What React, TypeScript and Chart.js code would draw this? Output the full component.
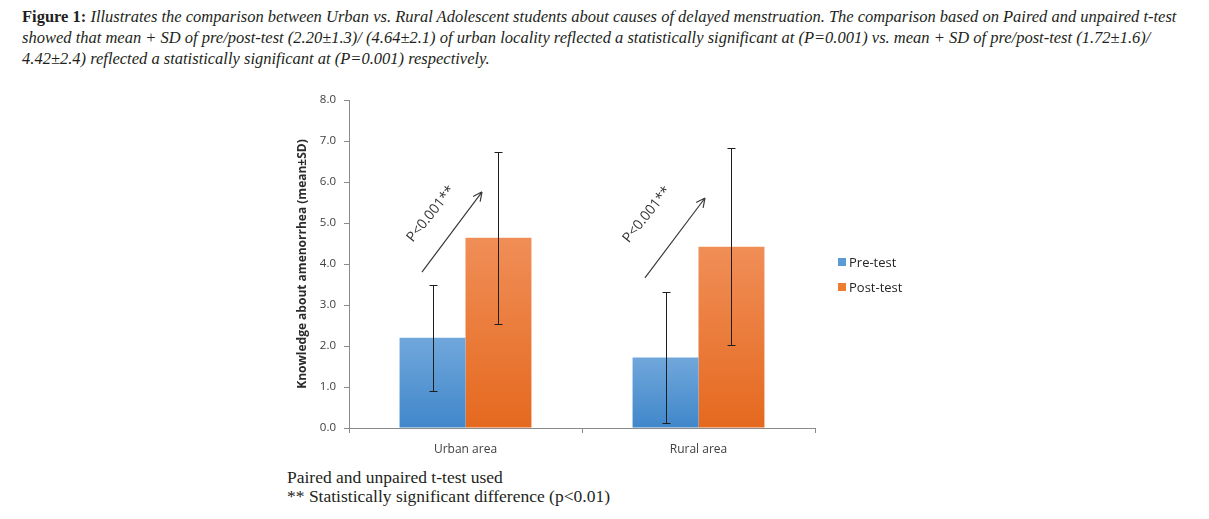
import React, { useEffect, useRef } from "react";
import { Chart, registerables } from "chart.js";

Chart.register(...registerables);

const categories = ["Urban area", "Rural area"];
const seriesNames = ["Pre-test", "Post-test"];
const preMean = [2.2, 1.72];
const preSD = [1.3, 1.6];
const postMean = [4.64, 4.42];
const postSD = [2.1, 2.4];
const yMin = 0;
const yMax = 8;
const yStep = 1;
const yTitle = "Knowledge about amenorrhea (mean\u00b1SD)";
const annotationText = "P<0.001**";
// annotation arrows, in (category index, value) units
const arrowFromX = [-0.187, 0.77];
const arrowFromY = [3.8, 3.66];
const arrowToX = [0.071, 1.028];
const arrowToY = [5.76, 5.61];
const labelAtX = [-0.148, 0.779];
const labelAtY = [5.22, 5.2];

const blueTop = "#70a7db";
const blueBottom = "#4087ca";
const orangeTop = "#f08e57";
const orangeBottom = "#e5691f";
const FONT = '"Open Sans", "Noto Sans", sans-serif';

const errors = [preSD, postSD];

function gradientFor(top: string, bottom: string) {
  return (c: any) => {
    const chart = c.chart;
    const ys = chart.scales && chart.scales.y;
    if (!chart.chartArea || !ys || c.raw == null) return bottom;
    const y0 = ys.getPixelForValue(0);
    const y1 = ys.getPixelForValue(c.raw);
    if (!isFinite(y0) || !isFinite(y1) || y0 === y1) return bottom;
    const g = chart.ctx.createLinearGradient(0, y0, 0, y1);
    g.addColorStop(0, bottom);
    g.addColorStop(1, top);
    return g;
  };
}

const errorBarPlugin = {
  id: "errorBars",
  afterDatasetsDraw(chart: any) {
    const ctx = chart.ctx;
    const ys = chart.scales.y;
    ctx.save();
    ctx.strokeStyle = "#1e1e1e";
    ctx.lineWidth = 1;
    chart.data.datasets.forEach((ds: any, di: number) => {
      const meta = chart.getDatasetMeta(di);
      meta.data.forEach((bar: any, i: number) => {
        const m = ds.data[i];
        const s = errors[di][i];
        const top = Math.round(ys.getPixelForValue(m + s)) + 0.5;
        const bot = Math.round(ys.getPixelForValue(m - s)) + 0.5;
        const x = Math.round(bar.x) + 0.5;
        ctx.beginPath();
        ctx.moveTo(x, top);
        ctx.lineTo(x, bot);
        ctx.moveTo(x - 4, top);
        ctx.lineTo(x + 4, top);
        ctx.moveTo(x - 4, bot);
        ctx.lineTo(x + 4, bot);
        ctx.stroke();
      });
    });
    ctx.restore();
  },
};

const annotationPlugin = {
  id: "pAnnotations",
  afterDatasetsDraw(chart: any) {
    const ctx = chart.ctx;
    const xs = chart.scales.x;
    const ys = chart.scales.y;
    const x0 = xs.getPixelForValue(0);
    const step = xs.getPixelForValue(1) - x0;
    const px = (v: number) => x0 + v * step;
    for (let i = 0; i < arrowFromX.length; i++) {
      ctx.save();
      const ax = px(arrowFromX[i]);
      const ay = ys.getPixelForValue(arrowFromY[i]);
      const bx = px(arrowToX[i]);
      const by = ys.getPixelForValue(arrowToY[i]);
      ctx.strokeStyle = "#3a3a3a";
      ctx.lineWidth = 1.2;
      ctx.beginPath();
      ctx.moveTo(ax, ay);
      ctx.lineTo(bx, by);
      const ang = Math.atan2(by - ay, bx - ax);
      const hl = 10;
      const spread = 0.45;
      ctx.moveTo(bx, by);
      ctx.lineTo(bx - hl * Math.cos(ang - spread), by - hl * Math.sin(ang - spread));
      ctx.moveTo(bx, by);
      ctx.lineTo(bx - hl * Math.cos(ang + spread), by - hl * Math.sin(ang + spread));
      ctx.stroke();

      const tx = px(labelAtX[i]);
      const ty = ys.getPixelForValue(labelAtY[i]);
      ctx.translate(tx, ty);
      ctx.rotate((-51 * Math.PI) / 180);
      ctx.fillStyle = "#333333";
      ctx.font = `14px ${FONT}`;
      ctx.textAlign = "center";
      ctx.textBaseline = "middle";
      ctx.fillText(annotationText, 0, 0);
      ctx.restore();
    }
  },
};

function BarChart() {
  const ref = useRef<HTMLCanvasElement | null>(null);
  useEffect(() => {
    if (!ref.current) return;
    const chart = new Chart(ref.current, {
      type: "bar",
      data: {
        labels: categories,
        datasets: [
          {
            label: seriesNames[0],
            data: preMean,
            backgroundColor: gradientFor(blueTop, blueBottom),
            borderWidth: 0,
            categoryPercentage: 0.566,
            barPercentage: 1,
          },
          {
            label: seriesNames[1],
            data: postMean,
            backgroundColor: gradientFor(orangeTop, orangeBottom),
            borderWidth: 0,
            categoryPercentage: 0.566,
            barPercentage: 1,
          },
        ],
      },
      options: {
        animation: false,
        responsive: false,
        maintainAspectRatio: false,
        layout: { padding: { left: 0, top: 15, right: 105, bottom: 0 } },
        plugins: {
          legend: { display: false },
          tooltip: { enabled: false },
        },
        scales: {
          x: {
            grid: {
              display: true,
              drawOnChartArea: false,
              offset: true,
              tickLength: 5,
              color: "#8a8a8a",
            },
            border: { color: "#8a8a8a" },
            ticks: { color: "#404040", font: { family: FONT, size: 12 }, padding: 9 },
            afterFit: (s: any) => {
              s.height = 37;
            },
          },
          y: {
            min: yMin,
            max: yMax,
            ticks: {
              stepSize: yStep,
              color: "#404040",
              font: { family: FONT, size: 11.5 },
              padding: 8,
              callback: (v: any) => Number(v).toFixed(1),
            },
            grid: {
              display: true,
              drawOnChartArea: false,
              tickLength: 5,
              color: "#8a8a8a",
            },
            border: { color: "#8a8a8a" },
            title: {
              display: true,
              text: yTitle,
              color: "#2b2b2b",
              font: { family: FONT, size: 12, weight: "bold" },
              padding: { top: 15, bottom: 0 },
            },
            afterFit: (s: any) => {
              s.width = 69;
            },
          },
        },
      },
      plugins: [errorBarPlugin, annotationPlugin],
    });
    return () => chart.destroy();
  }, []);
  return <canvas ref={ref} width={640} height={380} style={{ display: "block" }} />;
}

export default function App() {
  const serif = '"Liberation Serif", "DejaVu Serif", serif';
  return (
    <div style={{ position: "absolute", left: 0, top: 0, width: 1209, height: 519, background: "#fff", overflow: "hidden" }}>
      <div
        style={{
          position: "absolute",
          left: 22,
          top: 6,
          fontFamily: serif,
          fontSize: 16.5,
          lineHeight: "21px",
          whiteSpace: "nowrap",
          color: "#231f20",
        }}
      >
        <b>Figure 1:</b>{" "}
        <i>
          Illustrates the comparison between Urban vs. Rural Adolescent students about causes of delayed menstruation. The comparison based on Paired and unpaired t-test
          <br />
          showed that mean + SD of pre/post-test (2.20±1.3)/ (4.64±2.1) of urban locality reflected a statistically significant at (P=0.001) vs. mean + SD of pre/post-test (1.72±1.6)/
          <br />
          4.42±2.4) reflected a statistically significant at (P=0.001) respectively.
        </i>
      </div>
      <div style={{ position: "absolute", left: 280, top: 85 }}>
        <BarChart />
      </div>
      <div style={{ position: "absolute", left: 838, top: 252, fontFamily: FONT, fontSize: 13, color: "#262626" }}>
        {seriesNames.map((n, i) => (
          <div key={n} style={{ display: "flex", alignItems: "center", height: 20, marginBottom: i === 0 ? 5 : 0 }}>
            <span
              style={{
                display: "inline-block",
                width: 8,
                height: 8,
                background: i === 0 ? "#5b9bd5" : "#ed7d31",
                marginRight: 3,
              }}
            />
            <span>{n}</span>
          </div>
        ))}
      </div>
      <div
        style={{
          position: "absolute",
          left: 287,
          top: 468,
          fontFamily: serif,
          fontSize: 17.5,
          lineHeight: "19px",
          whiteSpace: "nowrap",
          color: "#231f20",
        }}
      >
        Paired and unpaired t-test used
        <br />
        ** Statistically significant difference (p&lt;0.01)
      </div>
    </div>
  );
}
